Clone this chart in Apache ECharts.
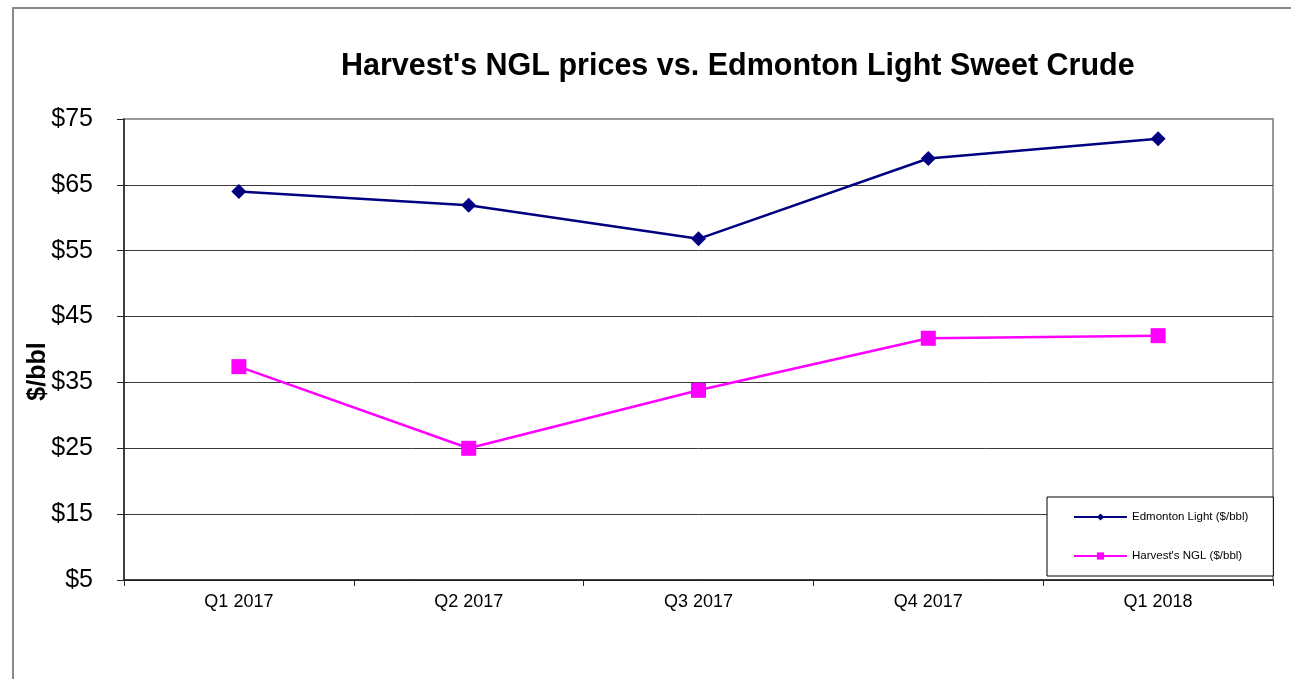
<!DOCTYPE html>
<html>
<head>
<meta charset="utf-8">
<title>Harvest's NGL prices vs. Edmonton Light Sweet Crude</title>
<script src="https://cdn.jsdelivr.net/npm/echarts@6/dist/echarts.min.js"></script>
<style>
  html, body { margin: 0; padding: 0; background: #fff; overflow: hidden; }
  #chart { position: absolute; left: 0; top: 0; width: 1291px; height: 679px; }
  #frame {
    position: absolute; left: 12px; top: 7px; width: 1400px; height: 800px;
    border-left: 2px solid #8a8a8a; border-top: 2px solid #8a8a8a;
    pointer-events: none;
  }
</style>
</head>
<body>
<div id="chart"></div>
<div id="frame"></div>
<script>
// chart data
const quarters = ['Q1 2017', 'Q2 2017', 'Q3 2017', 'Q4 2017', 'Q1 2018'];
const edmontonLight = [64.0, 61.9, 56.8, 69.0, 72.0];
const harvestNgl = [37.4, 25.0, 33.8, 41.7, 42.1];
const yMin = 5;
const yMax = 75;
const yStep = 10;

const font = "'Liberation Sans', Arial, sans-serif";

const chart = echarts.init(document.getElementById('chart'), null, { renderer: 'canvas' });

chart.setOption({
  backgroundColor: '#fff',
  animation: false,
  textStyle: { fontFamily: font, color: '#000' },
  title: {
    text: "Harvest's NGL prices vs. Edmonton Light Sweet Crude",
    left: 341,
    top: 51,
    padding: 0,
    textStyle: { fontFamily: font, fontSize: 30.5, fontWeight: 'bold', color: '#000' }
  },
  grid: {
    left: 124,
    right: 18,
    top: 119,
    bottom: 99,
    show: true,
    borderColor: '#9a9a9a',
    borderWidth: 2,
    backgroundColor: 'transparent'
  },
  legend: {
    orient: 'vertical',
    left: 1047,
    top: 497,
    padding: [14, 25, 14, 26],
    itemGap: 27,
    itemWidth: 53,
    itemHeight: 9,
    borderColor: '#000',
    borderWidth: 1,
    backgroundColor: '#fff',
    textStyle: { fontFamily: font, fontSize: 11.5, color: '#000' },
    data: ['Edmonton Light ($/bbl)', "Harvest's NGL ($/bbl)"]
  },
  xAxis: {
    type: 'category',
    data: quarters,
    boundaryGap: true,
    axisLine: { lineStyle: { color: '#222', width: 1.5 } },
    axisTick: { show: true, length: 6, lineStyle: { color: '#222' } },
    axisLabel: { fontFamily: font, fontSize: 18, color: '#000', margin: 13 },
    splitLine: { show: false }
  },
  yAxis: {
    type: 'value',
    min: yMin,
    max: yMax,
    interval: yStep,
    name: '$/bbl',
    nameLocation: 'middle',
    nameRotate: 90,
    nameGap: 73,
    nameMoveOverlap: false,
    nameTextStyle: {
      fontFamily: font, fontSize: 25, fontWeight: 'bold', color: '#000',
      padding: [0, 44, 0, 0]
    },
    axisLine: { show: true, lineStyle: { color: '#222', width: 1.5 } },
    axisTick: { show: true, length: 7, lineStyle: { color: '#222' } },
    axisLabel: {
      fontFamily: font, fontSize: 25, color: '#000', margin: 31,
      formatter: function (v) { return '$' + v; }
    },
    splitLine: {
      show: true,
      lineStyle: {
        color: ['#222', '#3a3a3a', '#3a3a3a', '#3a3a3a', '#3a3a3a', '#3a3a3a', '#3a3a3a', '#9a9a9a'],
        width: 1
      }
    }
  },
  series: [
    {
      name: 'Edmonton Light ($/bbl)',
      type: 'line',
      data: edmontonLight,
      symbol: 'diamond',
      symbolSize: 15,
      color: '#000080',
      lineStyle: { color: '#000080', width: 2.5 },
      itemStyle: { color: '#000080' },
      z: 3
    },
    {
      name: "Harvest's NGL ($/bbl)",
      type: 'line',
      data: harvestNgl,
      symbol: 'rect',
      symbolSize: 15,
      color: '#ff00ff',
      lineStyle: { color: '#ff00ff', width: 2.5 },
      itemStyle: { color: '#ff00ff' },
      z: 3
    }
  ]
});
</script>
</body>
</html>
